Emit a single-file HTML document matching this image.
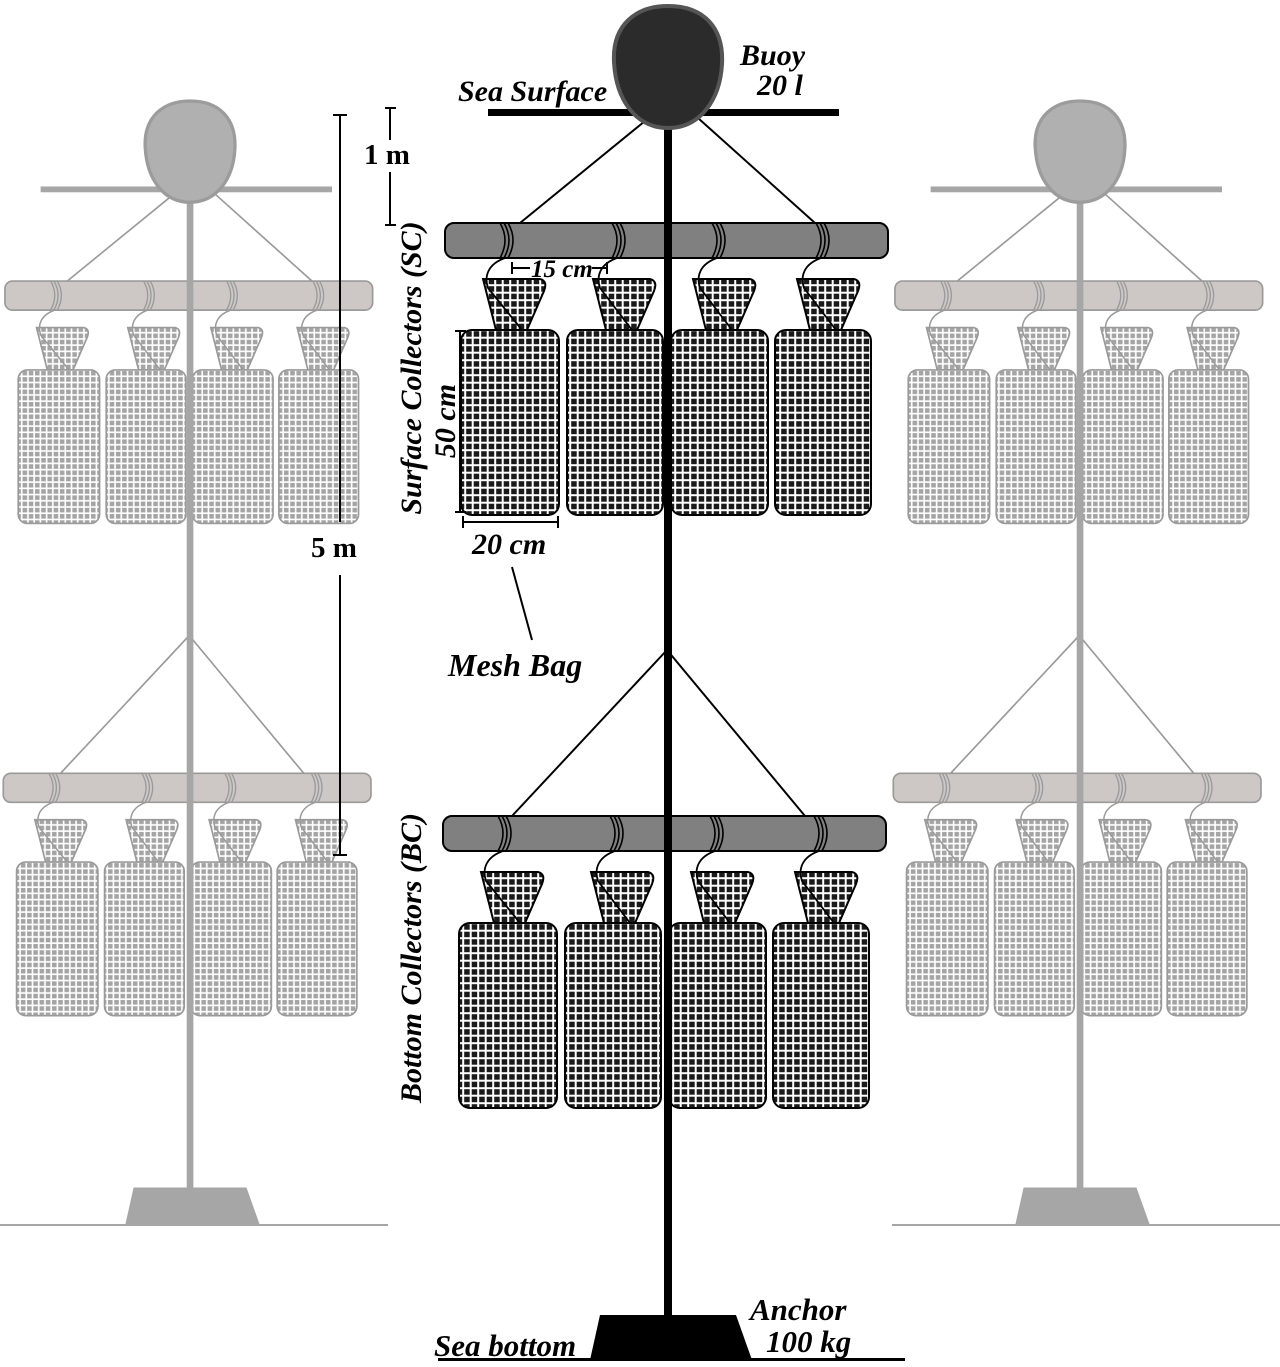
<!DOCTYPE html>
<html><head><meta charset="utf-8"><style>
html,body{margin:0;padding:0;background:#fff}
svg{display:block}
text{font-family:"Liberation Serif",serif;font-weight:bold}
.it{font-style:italic}
.c{--bar:#808080;--ln:#000;--mesh:url(#meshD);--pole:#000}
.g{--bar:#cdc8c6;--ln:#9a9a9a;--mesh:url(#meshG);--pole:#a6a6a6}
</style></head><body>
<svg width="1280" height="1367" viewBox="0 0 1280 1367" xmlns="http://www.w3.org/2000/svg">
<defs>
<pattern id="meshD" patternUnits="userSpaceOnUse" width="7.5" height="7.5"><rect width="7.5" height="7.5" fill="#fff"/><rect x="1.2" y="1.2" width="5.5" height="5.5" fill="#1a1a1a"/></pattern>
<pattern id="meshG" patternUnits="userSpaceOnUse" width="7.5" height="7.5"><rect width="7.5" height="7.5" fill="#fff"/><rect x="1.2" y="1.2" width="5.5" height="5.5" fill="#a4a4a4"/></pattern>
<g id="unit">
  <rect x="445" y="223" width="443" height="35" rx="9" style="fill:var(--bar);stroke:var(--ln)" stroke-width="2"/>
  <g fill="none" style="stroke:var(--ln)" stroke-width="1.6">
    <path d="M500,223 q10,17 0,35 M504,223 q10,17 0,35 M508,223 q10,17 0,35"/>
    <path d="M612,223 q10,17 0,35 M616,223 q10,17 0,35 M620,223 q10,17 0,35"/>
    <path d="M712,223 q10,17 0,35 M716,223 q10,17 0,35 M720,223 q10,17 0,35"/>
    <path d="M816,223 q10,17 0,35 M820,223 q10,17 0,35 M824,223 q10,17 0,35"/>
  </g>
  <g style="fill:var(--mesh);stroke:var(--ln)" stroke-width="2">
    <path d="M483,279 L540,279 Q548,281 544,291 L527,330 L496,330 Z"/>
    <path d="M593,279 L650,279 Q658,281 654,291 L637,330 L606,330 Z"/>
    <path d="M693,279 L750,279 Q758,281 754,291 L737,330 L706,330 Z"/>
    <path d="M797,279 L854,279 Q862,281 858,291 L841,330 L810,330 Z"/>
    <rect x="461" y="330" width="98" height="185" rx="11"/>
    <rect x="567" y="330" width="96" height="185" rx="11"/>
    <rect x="671" y="330" width="97" height="185" rx="11"/>
    <rect x="775" y="330" width="96" height="185" rx="11"/>
  </g>
  <g fill="none" style="stroke:var(--ln)" stroke-width="1.8">
    <path d="M505,258 C488,264 484,276 488,288 L522,330"/>
    <path d="M617,258 C600,264 596,276 600,288 L632,330"/>
    <path d="M717,258 C700,264 696,276 700,288 L732,330"/>
    <path d="M821,258 C804,264 800,276 804,288 L836,330"/>
  </g>
</g>
<g id="rig">
  <path d="M645,121 L520,223 M698,118 L815,223" style="stroke:var(--ln)" stroke-width="2" fill="none"/>
  <path d="M667,650 L512,816 M667,650 L805,816" style="stroke:var(--ln)" stroke-width="2" fill="none"/>
  <use href="#unit"/>
  <use href="#unit" transform="translate(-2,593)"/>
  <rect x="664" y="110" width="8" height="1210" style="fill:var(--pole)"/>
  <rect x="488" y="109" width="351" height="7" style="fill:var(--pole)"/>
  <path d="M600,1315 L736,1315 L752,1360 L590,1360 Z" style="fill:var(--pole)"/>
</g>
<path id="buoy" d="M614,62 C612,25 636,6 668,6 C704,6 724,28 722,64 C720,100 700,128 668,128 C636,128 616,100 614,62 Z"/>
</defs>

<g class="g" transform="translate(-364.4,96) scale(0.83)">
  <use href="#rig"/>
  <use href="#buoy" fill="#b0b0b0" stroke="#9c9c9c" stroke-width="4"/>
</g>
<rect x="0" y="1224" width="388" height="2" fill="#a6a6a6"/>
<g class="g" transform="translate(525.6,96) scale(0.83)">
  <use href="#rig"/>
  <use href="#buoy" fill="#b0b0b0" stroke="#9c9c9c" stroke-width="4"/>
</g>
<rect x="892" y="1224" width="388" height="2" fill="#a6a6a6"/>

<g class="c">
  <use href="#rig"/>
  <use href="#buoy" fill="#2b2b2b" stroke="#555" stroke-width="4"/>
  <rect x="438" y="1358" width="467" height="3" fill="#000"/>
</g>

<g stroke="#000" stroke-width="2" fill="none">
  <path d="M340,115 V522 M333,115 H347"/>
  <path d="M340,575 V855 M333,855 H347"/>
  <path d="M390,108 V140 M390,172 V225 M385,108 H396 M385,225 H396"/>
  <path d="M460,331 V512 M455,331 H466 M455,512 H466"/>
  <path d="M463,516 V528 M558,516 V528 M463,522 H558"/>
  <path d="M512,262 V274 M607,262 V274 M512,268 H530 M592,268 H607"/>
  <path d="M512,567 L532,640"/>
</g>

<text x="458" y="101" font-size="30" class="it">Sea Surface</text>
<text x="740" y="65" font-size="30" class="it">Buoy</text>
<text x="757" y="95" font-size="30" class="it">20 l</text>
<text x="364" y="164" font-size="29">1 m</text>
<text x="311" y="557" font-size="29">5 m</text>
<text x="531" y="277" font-size="25" class="it" font-weight="normal">15 cm</text>
<text x="472" y="554" font-size="30" class="it">20 cm</text>
<text x="448" y="676" font-size="32" class="it">Mesh Bag</text>
<text transform="translate(455,421) rotate(-90)" text-anchor="middle" font-size="30" class="it">50 cm</text>
<text transform="translate(421,368) rotate(-90)" text-anchor="middle" font-size="30" class="it">Surface Collectors (SC)</text>
<text transform="translate(421,958) rotate(-90)" text-anchor="middle" font-size="30" class="it">Bottom Collectors (BC)</text>
<text x="434" y="1356" font-size="31" class="it">Sea bottom</text>
<text x="750" y="1320" font-size="31" class="it">Anchor</text>
<text x="766" y="1352" font-size="31" class="it">100 kg</text>
</svg>
</body></html>
